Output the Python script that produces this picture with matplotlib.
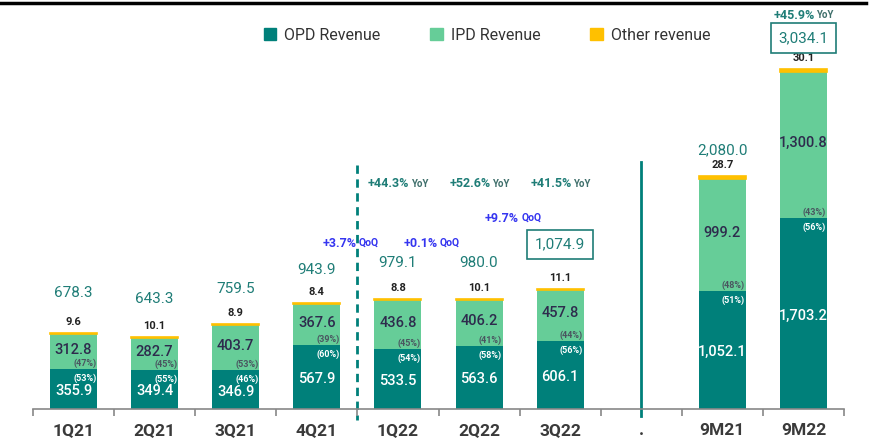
import matplotlib
matplotlib.use("Agg")
import matplotlib.pyplot as plt
from matplotlib.patches import Patch
from matplotlib.lines import Line2D

plt.rcParams["font.family"] = ["Roboto", "DejaVu Sans"]

# data
labels = ["1Q21", "2Q21", "3Q21", "4Q21", "1Q22", "2Q22", "3Q22", ".", "9M21", "9M22"]
periods = ["1Q21", "2Q21", "3Q21", "4Q21", "1Q22", "2Q22", "3Q22", "9M21", "9M22"]
opd = [355.9, 349.4, 346.9, 567.9, 533.5, 563.6, 606.1, 1052.1, 1703.2]
ipd = [312.8, 282.7, 403.7, 367.6, 436.8, 406.2, 457.8, 999.2, 1300.8]
other = [9.6, 10.1, 8.9, 8.4, 8.8, 10.1, 11.1, 28.7, 30.1]
total = [678.3, 643.3, 759.5, 943.9, 979.1, 980.0, 1074.9, 2080.0, 3034.1]
opd_share = ["53%", "55%", "46%", "60%", "54%", "58%", "56%", "51%", "56%"]
ipd_share = ["47%", "45%", "53%", "39%", "45%", "41%", "44%", "48%", "43%"]
yoy = {"1Q22": "+44.3%", "2Q22": "+52.6%", "3Q22": "+41.5%", "9M22": "+45.9%"}
qoq = {"1Q22": "+3.7%", "2Q22": "+0.1%", "3Q22": "+9.7%"}
boxed = ["3Q22", "9M22"]

# colours / layout
C_OPD = "#00807a"
C_IPD = "#66cd98"
C_OTH = "#ffc000"
C_TEAL = "#1f7d77"
C_BLUE = "#3535f0"
C_NAVY = "#2e2b4d"
PX = 0.72  # px -> points at dpi 100
total_pad = [40, 38, 35, 33, 36, 36, 44, 26, 31]

fig = plt.figure(figsize=(8.71, 4.43), dpi=100)
ax = fig.add_axes([33 / 871, 34 / 443, 811 / 871, 409 / 443])
ax.set_xlim(-0.5, 9.5)
ax.set_ylim(0, 3650)

x = [labels.index(p) for p in periods]
w = 0.58
ax.bar(x, opd, w, color=C_OPD, zorder=2)
ax.bar(x, ipd, w, bottom=opd, color=C_IPD, zorder=2)
ax.bar(x, other, w, bottom=[a + b for a, b in zip(opd, ipd)], color=C_OTH,
       edgecolor=C_OTH, lw=1.2, zorder=2)

for i, p in enumerate(periods):
    xi = x[i]
    top = opd[i] + ipd[i] + other[i]
    right = xi + w / 2 - 0.01
    # segment values
    ax.annotate(f"{opd[i]:,.1f}", (xi, opd[i] / 2), xytext=(0, -2 * PX),
                textcoords="offset points", ha="center", va="center",
                color="white", fontsize=10.5, fontweight="medium")
    ax.annotate(f"{ipd[i]:,.1f}", (xi, opd[i] + ipd[i] / 2), xytext=(0, 2 * PX),
                textcoords="offset points", ha="center", va="center",
                color=C_NAVY, fontsize=10.5, fontweight="medium")
    ax.annotate(f"({ipd_share[i]})", (right, opd[i]), xytext=(0, 6 * PX),
                textcoords="offset points", ha="right", va="center",
                fontsize=6.5, fontweight="bold", color="#4a5560")
    ax.annotate(f"({opd_share[i]})", (right, opd[i]), xytext=(0, -9 * PX),
                textcoords="offset points", ha="right", va="center",
                fontsize=6.5, fontweight="bold", color="white")
    ax.annotate(f"{other[i]:.1f}", (xi, top), xytext=(0, 11 * PX),
                textcoords="offset points", ha="center", va="center",
                fontsize=8, fontweight="bold", color="#222222")
    bb = None
    if p in boxed:
        bb = dict(boxstyle="square,pad=0.5", fc="white", ec=C_TEAL, lw=1.2)
    ax.annotate(f"{total[i]:,.1f}", (xi, top), xytext=(0, total_pad[i] * PX),
                textcoords="offset points", ha="center", va="center",
                fontsize=11, color=C_TEAL, bbox=bb)

# YoY / QoQ notes
for p, s in yoy.items():
    xi = labels.index(p)
    yy = 3516 if p.startswith("9M") else 2008
    ax.text(xi + 0.14, yy, s, ha="right", va="center", fontsize=9,
            fontweight="bold", color=C_TEAL)
    ax.text(xi + 0.16, yy, "YoY", ha="left", va="center", fontsize=7,
            fontweight="bold", color="#3f6f6b")
qoq_y = {"1Q22": 1481, "2Q22": 1481, "3Q22": 1704}
for p, s in qoq.items():
    xb = labels.index(p) - 0.5
    ax.text(xb - 0.01, qoq_y[p], s, ha="right", va="center", fontsize=9,
            fontweight="bold", color=C_BLUE)
    ax.text(xb + 0.02, qoq_y[p], "QoQ", ha="left", va="center", fontsize=7.5,
            fontweight="bold", color=C_BLUE)

# dividers
ax.plot([3.5, 3.5], [2177, -100], color=C_OPD, lw=2, ls=(0, (3, 2)),
        clip_on=False, zorder=1)
ax.plot([7, 7], [2204, -62], color=C_OPD, lw=2, clip_on=False, zorder=1)

# axis
for s in ["top", "right", "left"]:
    ax.spines[s].set_visible(False)
ax.spines["bottom"].set_color("#888888")
ax.spines["bottom"].set_linewidth(1.2)
ax.set_yticks([])
ax.set_xticks(range(len(labels)))
ax.set_xticklabels(labels, fontsize=12.5, fontweight="bold", color="#3a3a3a")
ax.set_xticks([i - 0.5 for i in range(len(labels) + 1)], minor=True)
ax.tick_params(axis="x", which="major", length=0, pad=10)
ax.tick_params(axis="x", which="minor", length=5, width=1.2, color="#888888")

handles = [Patch(color=C_OPD), Patch(color=C_IPD), Patch(color=C_OTH)]
ax.legend(handles, ["OPD Revenue", "IPD Revenue", "Other revenue"],
          loc="center", bbox_to_anchor=(487 / 871, 1 - 35 / 443),
          bbox_transform=fig.transFigure, ncol=3, frameon=False,
          fontsize=11.5, handlelength=0.8, handleheight=0.8,
          handletextpad=0.5, columnspacing=3.1, labelcolor="#333333")

fig.add_artist(Line2D([0, 866 / 871], [1 - 3 / 443] * 2, color="black",
                      lw=2.5, transform=fig.transFigure))

fig.savefig("out.png", dpi=100)
plt.close(fig)
